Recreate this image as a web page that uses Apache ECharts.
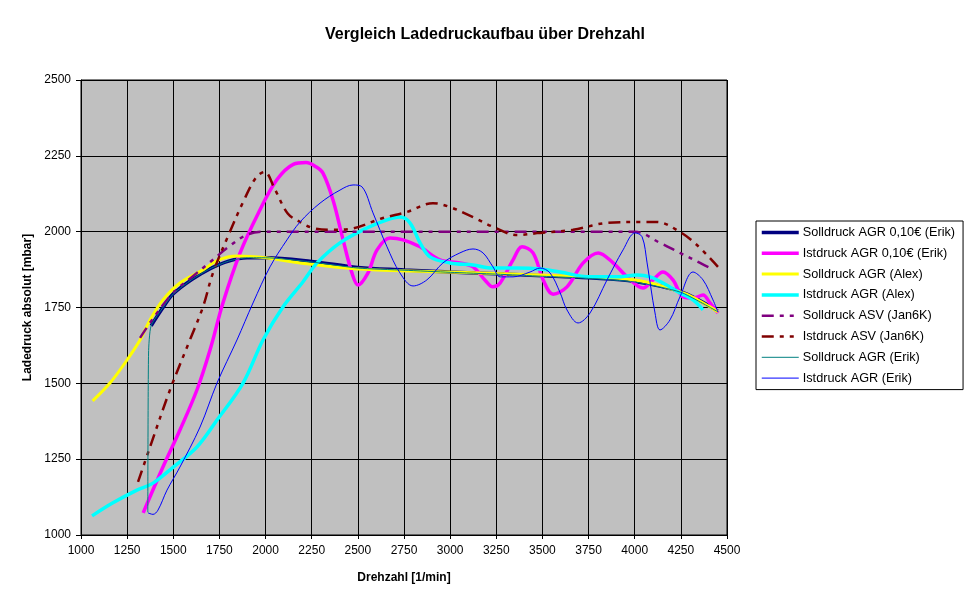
<!DOCTYPE html>
<html>
<head>
<meta charset="utf-8">
<script src="https://cdn.jsdelivr.net/npm/echarts@6/dist/echarts.min.js"></script>
<style>
  html, body { margin: 0; padding: 0; background: #fff; }
  #chart { width: 970px; height: 604px; }
</style>
</head>
<body>
<div id="chart"></div>
<script>
// x ticks / y ticks
const xTicks = [1000, 1250, 1500, 1750, 2000, 2250, 2500, 2750, 3000, 3250, 3500, 3750, 4000, 4250, 4500]
const yTicks = [1000, 1250, 1500, 1750, 2000, 2250, 2500]

// [drehzahl, ladedruck] pairs
const sollErik010 = [[1380, 1690], [1450, 1755], [1500, 1795], [1600, 1842], [1700, 1878], [1800, 1903], [1900, 1914], [2000, 1914], [2250, 1902], [2500, 1882], [2750, 1874], [3000, 1867], [3250, 1861], [3500, 1855], [3750, 1848], [4000, 1836], [4250, 1802], [4450, 1738]]
const istErik010 = [[1337, 1073], [1444, 1224], [1536, 1346], [1628, 1478], [1699, 1610], [1769, 1765], [1862, 1930], [1960, 2060], [2060, 2170], [2150, 2222], [2220, 2228], [2270, 2215], [2311, 2193], [2365, 2105], [2420, 1973], [2468, 1864], [2501, 1824], [2555, 1864], [2604, 1940], [2674, 1979], [2745, 1973], [2837, 1950], [2945, 1907], [3053, 1897], [3124, 1884], [3188, 1841], [3232, 1818], [3271, 1831], [3341, 1907], [3390, 1950], [3449, 1930], [3504, 1841], [3558, 1794], [3633, 1818], [3721, 1897], [3802, 1930], [3883, 1897], [3959, 1851], [4045, 1814], [4099, 1841], [4153, 1867], [4207, 1841], [4262, 1785], [4316, 1781], [4370, 1791], [4408, 1765], [4451, 1732]]
const sollAlex = [[1063, 1442], [1157, 1501], [1238, 1567], [1320, 1643], [1374, 1709], [1444, 1775], [1536, 1831], [1661, 1874], [1742, 1906], [1845, 1920], [2000, 1914], [2187, 1897], [2500, 1877], [3000, 1867], [3487, 1857], [4002, 1841], [4262, 1798], [4408, 1752], [4451, 1735]]
const istAlex = [[1060, 1063], [1173, 1106], [1303, 1148], [1390, 1171], [1500, 1224], [1628, 1290], [1737, 1379], [1878, 1501], [1986, 1643], [2094, 1752], [2203, 1835], [2279, 1897], [2403, 1963], [2549, 2012], [2658, 2039], [2728, 2048], [2782, 2029], [2837, 1963], [2891, 1917], [2999, 1897], [3124, 1890], [3232, 1880], [3362, 1880], [3487, 1877], [3595, 1867], [3758, 1851], [3904, 1851], [4013, 1857], [4083, 1851], [4153, 1831], [4245, 1798], [4316, 1775], [4370, 1742]]
const sollJan = [[1320, 1650], [1400, 1722], [1500, 1798], [1600, 1850], [1700, 1900], [1800, 1950], [1900, 1990], [2000, 2000], [2500, 2000], [3000, 2000], [3500, 2000], [4000, 2000], [4137, 1963], [4245, 1930], [4354, 1897], [4419, 1877]]
const istJan = [[1309, 1175], [1374, 1290], [1482, 1478], [1590, 1643], [1661, 1752], [1715, 1864], [1800, 1990], [1880, 2100], [1950, 2180], [1995, 2197], [2050, 2140], [2120, 2060], [2187, 2032], [2257, 2012], [2365, 2006], [2457, 2009], [2636, 2045], [2766, 2065], [2907, 2094], [2999, 2081], [3124, 2048], [3232, 2016], [3362, 1989], [3487, 1996], [3666, 2006], [3850, 2029], [4029, 2032], [4120, 2032], [4245, 1999], [4337, 1956], [4451, 1884]]
const sollErik = [[1362, 1075], [1366, 1600], [1380, 1690], [1450, 1755], [1500, 1795], [1600, 1842], [1700, 1878], [1800, 1903], [1900, 1914], [2000, 1914], [2250, 1900], [2500, 1880], [2750, 1873], [3000, 1866], [3250, 1860], [3500, 1853], [3750, 1846], [4000, 1834], [4250, 1800], [4450, 1736]]
const istErik = [[1363, 1073], [1390, 1068], [1417, 1082], [1466, 1148], [1536, 1224], [1645, 1356], [1737, 1501], [1845, 1643], [1932, 1765], [2024, 1884], [2116, 1973], [2187, 2032], [2295, 2094], [2403, 2137], [2474, 2154], [2522, 2148], [2582, 2062], [2658, 1950], [2728, 1864], [2799, 1821], [2874, 1841], [2961, 1897], [3053, 1930], [3124, 1943], [3178, 1930], [3232, 1884], [3271, 1851], [3341, 1851], [3433, 1867], [3487, 1880], [3541, 1864], [3595, 1800], [3633, 1742], [3693, 1699], [3758, 1732], [3850, 1841], [3937, 1940], [4002, 1996], [4040, 1983], [4067, 1897], [4110, 1732], [4137, 1676], [4191, 1709], [4245, 1785], [4316, 1867], [4370, 1841], [4424, 1775], [4451, 1735]]

const dashDotDot = [12, 6, 4, 6, 4, 6]

function line (name, data, color, width, type, smooth) {
  return {
    name: name,
    type: 'line',
    data: data,
    symbol: 'none',
    smooth: smooth === undefined ? 0.35 : smooth,
    lineStyle: { color: color, width: width, type: type || 'solid' },
    itemStyle: { color: color },
    emphasis: { disabled: true }
  }
}

const chart = echarts.init(document.getElementById('chart'))

chart.setOption({
  animation: false,
  backgroundColor: '#fff',
  textStyle: { fontFamily: 'Liberation Sans, Arial, sans-serif' },
  title: {
    text: 'Vergleich Ladedruckaufbau über Drehzahl',
    left: 'center',
    top: 22,
    textStyle: { fontSize: 16, fontWeight: 'bold', color: '#000' }
  },
  grid: {
    left: 81, top: 80, right: 243, bottom: 69,
    show: true,
    backgroundColor: '#c0c0c0',
    borderColor: '#000',
    borderWidth: 1
  },
  legend: {
    orient: 'vertical',
    left: 756,
    top: 221,
    padding: [5, 8, 5, 4],
    itemWidth: 37,
    itemHeight: 14,
    itemGap: 7.8,
    backgroundColor: '#fff',
    borderColor: '#000',
    borderWidth: 1,
    itemStyle: { opacity: 0 },
    lineStyle: { width: 'inherit' },
    textStyle: { fontSize: 12.7, color: '#000', padding: [0, 0, 0, -1] }
  },
  xAxis: {
    type: 'value',
    min: xTicks[0],
    max: xTicks[xTicks.length - 1],
    interval: 250,
    name: 'Drehzahl [1/min]',
    nameLocation: 'middle',
    nameGap: 37,
    nameTextStyle: { fontSize: 12, fontWeight: 'bold', color: '#000' },
    axisLine: { lineStyle: { color: '#000' } },
    axisTick: { show: true, length: 4, lineStyle: { color: '#000' } },
    axisLabel: { color: '#000', fontSize: 12, margin: 10, formatter: v => String(v) },
    splitLine: { show: true, lineStyle: { color: '#000', width: 1 } }
  },
  yAxis: {
    type: 'value',
    min: yTicks[0],
    max: yTicks[yTicks.length - 1],
    interval: 250,
    name: 'Ladedruck absolut [mbar]',
    nameLocation: 'middle',
    nameGap: 43,
    nameTextStyle: { fontSize: 12, fontWeight: 'bold', color: '#000' },
    axisLine: { show: true, lineStyle: { color: '#000' } },
    axisTick: { show: true, length: 5, lineStyle: { color: '#000' } },
    axisLabel: { color: '#000', fontSize: 12, margin: 10, formatter: v => String(v) },
    splitLine: { show: true, lineStyle: { color: '#000', width: 1 } }
  },
  series: [
    line('Solldruck AGR 0,10€ (Erik)', sollErik010, '#000080', 3.5),
    line('Istdruck AGR 0,10€ (Erik)', istErik010, '#ff00ff', 3.5),
    line('Solldruck AGR (Alex)', sollAlex, '#ffff00', 3),
    line('Istdruck AGR (Alex)', istAlex, '#00ffff', 3.5),
    line('Solldruck ASV (Jan6K)', sollJan, '#800080', 2.5, dashDotDot),
    line('Istdruck ASV (Jan6K)', istJan, '#800000', 2.5, dashDotDot),
    line('Solldruck AGR (Erik)', sollErik, '#008080', 1, 'solid', 0.2),
    line('Istdruck AGR (Erik)', istErik, '#0000ff', 1)
  ]
})
</script>
</body>
</html>
